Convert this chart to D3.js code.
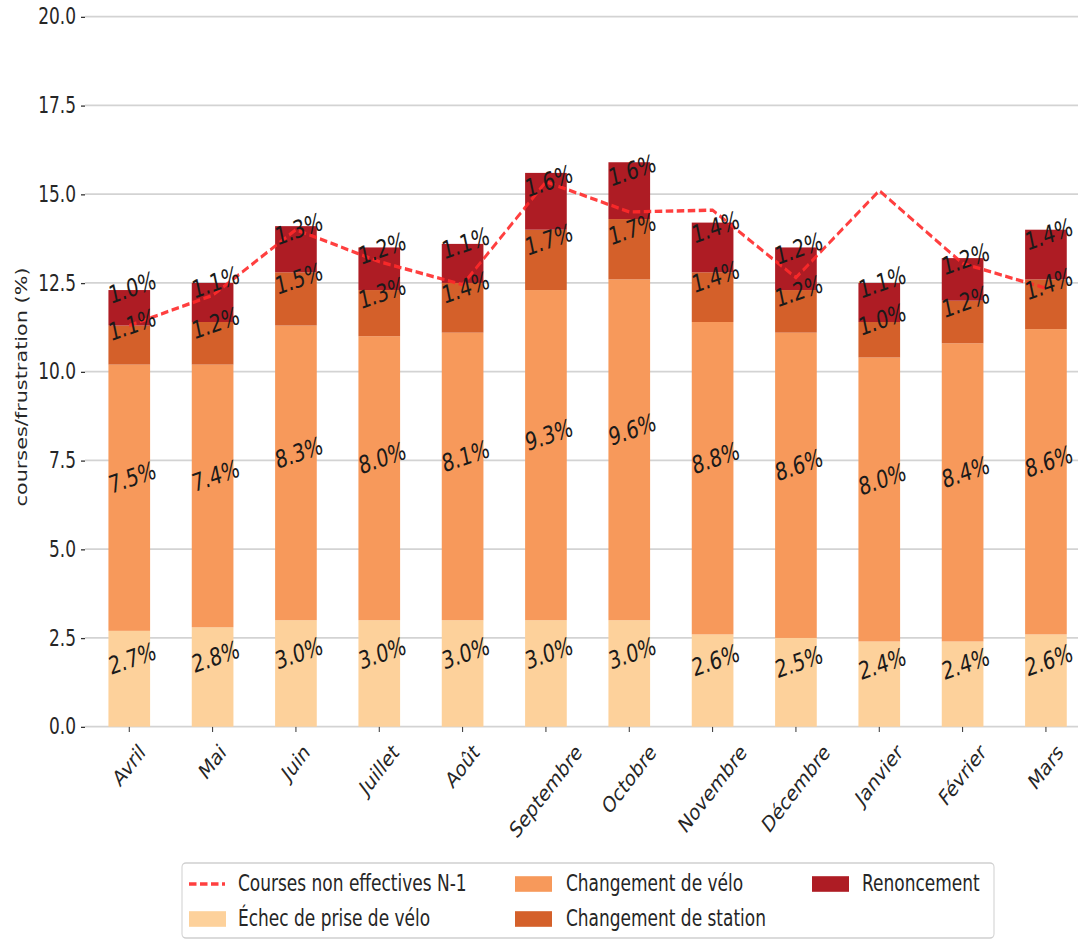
<!DOCTYPE html>
<html>
<head>
<meta charset="utf-8">
<script src="https://cdn.jsdelivr.net/npm/d3@7"></script>
<style>
  html, body { margin: 0; padding: 0; background: #fff; }
  svg { display: block; }
  text { font-family: "DejaVu Sans", sans-serif; }
</style>
</head>
<body>
<div id="chart"></div>
<script>
// ---- data ----
const months = ["Avril","Mai","Juin","Juillet","Août","Septembre","Octobre","Novembre","Décembre","Janvier","Février","Mars"];
const echecPrise = [2.7,2.8,3.0,3.0,3.0,3.0,3.0,2.6,2.5,2.4,2.4,2.6];
const changementVelo = [7.5,7.4,8.3,8.0,8.1,9.3,9.6,8.8,8.6,8.0,8.4,8.6];
const changementStation = [1.1,1.2,1.5,1.3,1.4,1.7,1.7,1.4,1.2,1.0,1.2,1.4];
const renoncement = [1.0,1.1,1.3,1.2,1.1,1.6,1.6,1.4,1.2,1.1,1.2,1.4];
const nonEffectivesN1 = [11.3,12.15,14.0,13.1,12.45,15.35,14.5,14.55,12.65,15.1,13.05,12.35];
const yTicks = [0,2.5,5,7.5,10,12.5,15,17.5,20];
const seriesNames = ["Échec de prise de vélo","Changement de vélo","Changement de station","Renoncement"];
const seriesColors = ["#fdd19b","#f7995b","#d4602a","#ae1c24"];
const lineName = "Courses non effectives N-1";
const yLabel = "courses/frustration (%)";

// ---- layout (design space is vertically stretched like the reference) ----
const W = 1078, H = 942, S = 1.3, VH = H / S;
const svg = d3.select("#chart").append("svg")
  .attr("width", W).attr("height", H)
  .attr("viewBox", `0 0 ${W} ${VH}`)
  .attr("preserveAspectRatio", "none");

const y = d3.scaleLinear().domain([0, 20]).range([726.7 / S, 16.7 / S]);
const x = d3.scaleBand().domain(months).range([87.6, 1087.6]).paddingInner(0.5).paddingOuter(0.25);
const plotLeft = 85, plotRight = W;
const fs = 17;
const labFs = 19;

// gridlines
svg.append("g").selectAll("line").data(yTicks).join("line")
  .attr("x1", plotLeft).attr("x2", plotRight)
  .attr("y1", d => y(d)).attr("y2", d => y(d))
  .attr("stroke", "#d3d3d3").attr("stroke-width", 1.3);

// y axis
const yAxis = svg.append("g").attr("transform", `translate(${plotLeft},0)`)
  .call(d3.axisLeft(y).tickValues(yTicks).tickFormat(d3.format(".1f")).tickSize(4).tickPadding(5));
yAxis.select(".domain").remove();
yAxis.selectAll(".tick line").attr("stroke", "#333").attr("stroke-width", 1);
yAxis.selectAll(".tick text").attr("font-size", fs).attr("fill", "#262626").attr("font-family", "DejaVu Sans");

// x axis
const xAxis = svg.append("g").attr("transform", `translate(0,${y(0)})`)
  .call(d3.axisBottom(x).tickSize(4).tickPadding(6));
xAxis.select(".domain").remove();
xAxis.selectAll(".tick line").attr("stroke", "#333").attr("stroke-width", 1);
xAxis.selectAll(".tick text")
  .attr("font-size", fs).attr("fill", "#262626").attr("font-family", "DejaVu Sans")
  .attr("text-anchor", "middle").attr("dominant-baseline", "central")
  .attr("y", null).attr("dy", null)
  .each(function() {
    const L = this.getComputedTextLength();
    const h = fs * 0.95;
    const bh = (L + h) * Math.SQRT1_2;
    d3.select(this).attr("transform", `translate(0,${570 - y(0) + bh / 2}) rotate(-45)`);
  });

// stacked bars
const rows = months.map((m, i) => ({ month: m, s0: echecPrise[i], s1: changementVelo[i], s2: changementStation[i], s3: renoncement[i] }));
const keys = ["s0","s1","s2","s3"];
const stacked = d3.stack().keys(keys)(rows);

const barG = svg.append("g");
stacked.forEach((layer, li) => {
  barG.append("g").selectAll("rect").data(layer).join("rect")
    .attr("x", d => x(d.data.month))
    .attr("width", x.bandwidth())
    .attr("y", d => y(d[1]))
    .attr("height", d => y(d[0]) - y(d[1]))
    .attr("fill", seriesColors[li]);
});

// dashed N-1 line
const line = d3.line().x((d, i) => x(months[i]) + x.bandwidth() / 2).y(d => y(d));
svg.append("path").datum(nonEffectivesN1)
  .attr("d", line)
  .attr("fill", "none")
  .attr("stroke", "#ff2a2a").attr("stroke-opacity", 0.9)
  .attr("stroke-width", 2.6)
  .attr("stroke-dasharray", "7.5,3.5");

// bar value labels
const ang = 15 * Math.PI / 180;
const labG = svg.append("g");
stacked.forEach(layer => {
  layer.forEach(d => {
    const v = d[1] - d[0];
    const t = labG.append("text")
      .attr("font-size", labFs).attr("fill", "#1a1a1a")
      .attr("text-anchor", "middle").attr("dominant-baseline", "central")
      .text(v.toFixed(1) + "%");
    const L = t.node().getComputedTextLength();
    const h = labFs * 1.0;
    const off = (L * Math.sin(ang) + h * Math.cos(ang)) / 2;
    const cx = x(d.data.month) + x.bandwidth() / 2 + 3;
    const cy = y((d[0] + d[1]) / 2) - off;
    t.attr("transform", `translate(${cx},${cy}) rotate(-15)`);
  });
});

// y label
svg.append("text")
  .attr("transform", `translate(27,${387 / S}) rotate(-90)`)
  .attr("text-anchor", "middle")
  .attr("font-size", 16)
  .attr("fill", "#262626")
  .text(yLabel);

// legend
const lg = svg.append("g");
lg.append("rect")
  .attr("x", 182).attr("y", 863 / S).attr("width", 812).attr("height", (938 - 863) / S)
  .attr("rx", 4).attr("ry", 3)
  .attr("fill", "#fff").attr("fill-opacity", 0.85)
  .attr("stroke", "#d0d0d0").attr("stroke-width", 1);
const row1 = 884 / S, row2 = 919 / S;
const legendItems = [
  { type: "line", label: lineName, hx: 189, tx: 238, cy: row1 },
  { type: "rect", label: seriesNames[0], color: seriesColors[0], hx: 189, tx: 238, cy: row2 },
  { type: "rect", label: seriesNames[1], color: seriesColors[1], hx: 515, tx: 566, cy: row1 },
  { type: "rect", label: seriesNames[2], color: seriesColors[2], hx: 515, tx: 566, cy: row2 },
  { type: "rect", label: seriesNames[3], color: seriesColors[3], hx: 812, tx: 862, cy: row1 }
];
legendItems.forEach(it => {
  if (it.type === "line") {
    lg.append("line").attr("x1", it.hx).attr("x2", it.hx + 36)
      .attr("y1", it.cy).attr("y2", it.cy)
      .attr("stroke", "#ff2a2a").attr("stroke-opacity", 0.9)
      .attr("stroke-width", 2.6).attr("stroke-dasharray", "7.5,3.5");
  } else {
    lg.append("rect").attr("x", it.hx).attr("y", it.cy - 6).attr("width", 37).attr("height", 12)
      .attr("fill", it.color);
  }
  lg.append("text").attr("x", it.tx).attr("y", it.cy)
    .attr("dominant-baseline", "central")
    .attr("font-size", fs).attr("fill", "#262626")
    .text(it.label);
});
</script>
</body>
</html>
